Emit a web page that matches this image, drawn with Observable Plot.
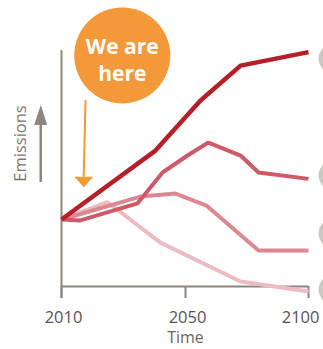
<!DOCTYPE html>
<html><head><meta charset="utf-8">
<script src="https://cdn.jsdelivr.net/npm/d3@7"></script>
<script src="https://cdn.jsdelivr.net/npm/@observablehq/plot@0.6"></script>
<style>html,body{margin:0;padding:0;background:#fff;} svg{display:block}</style>
</head><body><div id="chart"></div>
<script>
// ---- data (emissions in arbitrary index units) ----
const tickYears = [2010, 2050, 2100];
const tickLabels = ["2010", "2050", "2100"];
const xTitle = "Time";
const yTitle = "Emissions";
const callout = "We are\nhere";

const highYears   = [2010, 2040.3, 2056.1, 2072.4, 2100];
const highValues  = [28.4, 57.6, 78.8, 93.6, 99.3];

const medHighYears  = [2010, 2016.1, 2034.5, 2042.6, 2050.8, 2059.3, 2072.4, 2079.7, 2100];
const medHighValues = [28.4, 28.0, 35.2, 48.3, 55.5, 61.0, 55.5, 48.3, 45.6];

const medLowYears  = [2010, 2035.5, 2046.8, 2058.5, 2079.7, 2100];
const medLowValues = [28.4, 38.1, 39.4, 34.3, 15.3, 15.3];

const lowYears  = [2010, 2024.8, 2041.9, 2072.4, 2100];
const lowValues = [28.4, 35.8, 18.6, 2.1, -2.1];

const seriesNames  = ["low", "medLow", "medHigh", "high"];
const seriesColors = ["#ecbcc1", "#dc8791", "#cf5a67", "#b41f28"];

const markerYears  = [2110.2, 2110.2, 2110.2, 2110.2];
const markerValues = [96.6, 47.0, 22.5, -1.3];

// ---- build tables ----
function rows(name, ys, vs) { return ys.map((y, i) => ({series: name, year: y, value: vs[i]})); }
const lines = [
  rows("low", lowYears, lowValues),
  rows("medLow", medLowYears, medLowValues),
  rows("medHigh", medHighYears, medHighValues),
  rows("high", highYears, highValues)
];
const markers = markerYears.map((y, i) => ({year: y, value: markerValues[i]}));
const ticks = tickYears.map((y, i) => ({year: y, label: tickLabels[i]}));
const innerTicks = ticks.slice(0, -1);
const lastTick = ticks.slice(-1);

const triDown = {draw(ctx) { ctx.moveTo(-9.5, -5); ctx.lineTo(9.5, -5); ctx.lineTo(0, 5.5); ctx.closePath(); }};
const triUp = {draw(ctx) { ctx.moveTo(-6.5, 10); ctx.lineTo(6.5, 10); ctx.lineTo(0, -10); ctx.closePath(); }};

const font = "'Open Sans', 'DejaVu Sans', sans-serif";
const axisColor = "#8c867e";
const tickText = {y: -13.2, text: "label", fill: "#5a544d", fontSize: 16.5, fontFamily: font, lineAnchor: "middle"};

const marks = [];
// axes
marks.push(Plot.ruleX([2010], {y1: -5.1, y2: 100, stroke: axisColor, strokeWidth: 2}));
marks.push(Plot.ruleY([0], {x1: 2010, x2: 2100, stroke: axisColor, strokeWidth: 2}));
marks.push(Plot.ruleX(tickYears, {y1: -5.1, y2: 0, stroke: axisColor, strokeWidth: 2}));
marks.push(Plot.text(innerTicks, {x: "year", dx: 2, ...tickText}));
marks.push(Plot.text(lastTick, {x: "year", textAnchor: "end", dx: 11, ...tickText}));
marks.push(Plot.text([xTitle], {x: 2050, y: -21.8, text: d => d, fill: "#6a645d", fontSize: 16, fontFamily: font, lineAnchor: "middle"}));
marks.push(Plot.text([yTitle], {x: 1996.8, y: 60.6, text: d => d, rotate: -90, fill: "#7b756e", fontSize: 16.5, fontFamily: font, lineAnchor: "middle"}));
// emission arrow
marks.push(Plot.ruleX([2003.3], {y1: 44.1, y2: 70, stroke: axisColor, strokeWidth: 2.5}));
marks.push(Plot.dot([0], {x: 2003.3, y: 72.7, symbol: triUp, r: 10, fill: axisColor, stroke: null}));
// lines
lines.forEach((ls, i) => {
  marks.push(Plot.line(ls, {x: "year", y: "value", stroke: seriesColors[i], strokeWidth: i === 3 ? 4.5 : 4, strokeLinejoin: "miter", strokeLinecap: "butt"}));
});
// end markers
marks.push(Plot.dot(markers, {x: "year", y: "value", r: 15, fill: "#cbc8c3", stroke: null}));
// callout
marks.push(Plot.link([0], {x1: 2017.75, y1: 79, x2: 2017.15, y2: 46.5, stroke: "#f39a32", strokeWidth: 2}));
marks.push(Plot.dot([0], {x: 2017.2, y: 44.4, symbol: triDown, r: 10, fill: "#f39a32", stroke: null}));
marks.push(Plot.dot([0], {x: 2029.6, y: 97.9, r: 48, fill: "#f4993a", stroke: null}));
marks.push(Plot.text([callout], {x: 2029.6, y: 96.6, text: d => d, fill: "#ffffff", fontSize: 21, fontWeight: 700, fontFamily: font, lineAnchor: "middle", lineHeight: 1.3}));

const chart = Plot.plot({
  width: 323,
  height: 349,
  margin: 0,
  style: {background: "#ffffff", overflow: "visible"},
  x: {type: "linear", domain: [2010, 2050, 2100], range: [61, 185, 308], axis: null},
  y: {type: "linear", domain: [0, 100], range: [286, 50], axis: null},
  marks
});
document.getElementById("chart").appendChild(chart);
</script>
</body></html>
